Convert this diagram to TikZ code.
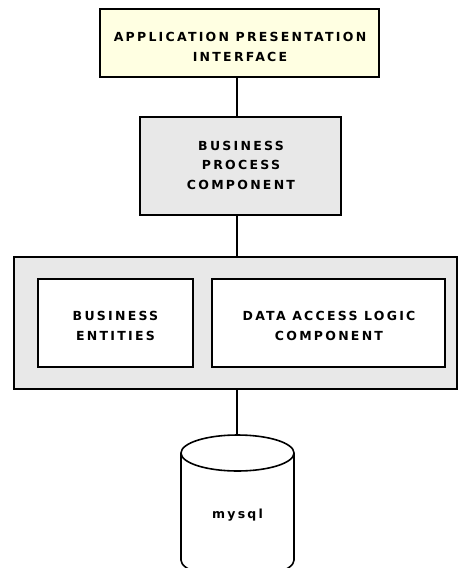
\documentclass[tikz,border=0pt]{standalone}
\usepackage{fontspec}
\newfontfamily\pixfont[LetterSpace=18]{DejaVu Sans Bold}
\definecolor{paleyellow}{RGB}{255,255,226}
\definecolor{palegray}{RGB}{232,232,232}
\begin{document}
\begin{tikzpicture}[x=1pt,y=-1pt,
  lbl/.style={font=\pixfont\fontsize{12.5}{19.5}\selectfont, align=center},
  boxline/.style={draw=black, line width=1.6pt},
  conn/.style={draw=black, line width=1.6pt}]
\useasboundingbox (0,0) rectangle (458,568);
\clip (0,0) rectangle (458,568);
% boxes
\path[boxline, fill=paleyellow] (100,9) rectangle (379,77);
\node[lbl] (api) at (240,47) {APPLICATION PRESENTATION\\INTERFACE};
\path[boxline, fill=palegray] (140,117) rectangle (341,215);
\node[lbl] (bpc) at (241,165) {BUSINESS\\PROCESS\\COMPONENT};
\path[boxline, fill=palegray] (14,257) rectangle (457,389);
\path[boxline, fill=white] (38,279) rectangle (193,367);
\node[lbl] (be) at (115.5,326) {BUSINESS\\ENTITIES};
\path[boxline, fill=white] (212,279) rectangle (445,367);
\node[lbl] (dal) at (329,326) {DATA ACCESS LOGIC\\COMPONENT};
% named anchors for connectors
\coordinate (apiS) at (237,77);
\coordinate (bpcN) at (237,117);
\coordinate (bpcS) at (237,215);
\coordinate (grpN) at (237,257);
\coordinate (grpS) at (237,389);
\coordinate (dbTop) at (237,435);
\draw[conn] (apiS) -- (bpcN);
\draw[conn] (bpcS) -- (grpN);
\draw[conn] (grpS) -- (dbTop);
% database cylinder
\fill[white] (181,453) -- (181,560) arc[start angle=180, end angle=360, x radius=56.5, y radius=18] -- (294,453) -- cycle;
\draw[boxline] (237.5,453) ellipse[x radius=56.5, y radius=18];
\draw[boxline] (181,453) -- (181,560) arc[start angle=180, end angle=360, x radius=56.5, y radius=-18] -- (294,453);
\node[lbl] (db) at (237.5,515) {mysql};
\end{tikzpicture}
\end{document}
